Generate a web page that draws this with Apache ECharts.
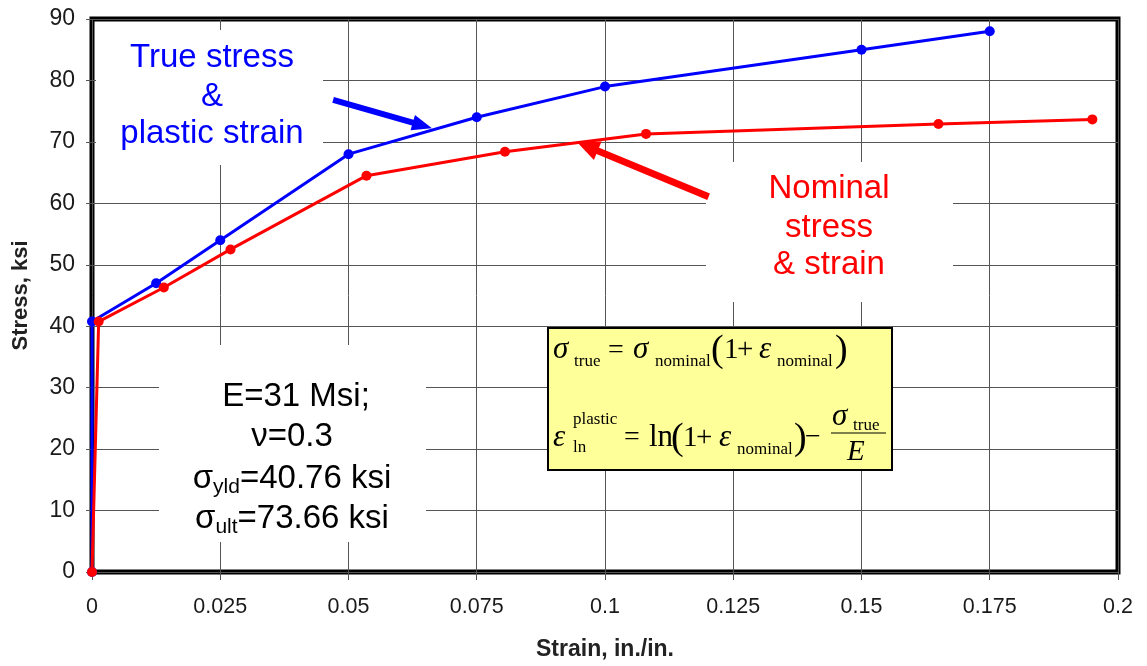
<!DOCTYPE html>
<html>
<head>
<meta charset="utf-8">
<script src="https://cdn.jsdelivr.net/npm/echarts@6/dist/echarts.min.js"></script>
<style>
  html, body { margin: 0; padding: 0; background: #fff; }
  #chart { width: 1147px; height: 666px; }
</style>
</head>
<body>
<div id="chart"></div>
<script>
// True stress vs. plastic strain
const trueStrain = [0, 0, 0.0125, 0.025, 0.05, 0.075, 0.1, 0.15, 0.175];
const trueStress = [0, 40.76, 47, 54, 68, 74, 79, 85, 88];
// Nominal (engineering) stress vs. strain
const nomStrain = [0, 0.0013, 0.014, 0.027, 0.0535, 0.0805, 0.108, 0.165, 0.195];
const nomStress = [0, 40.76, 46.3, 52.5, 64.5, 68.4, 71.3, 72.9, 73.66];

const xTickLabels = ['0', '0.025', '0.05', '0.075', '0.1', '0.125', '0.15', '0.175', '0.2'];
const yTickLabels = ['0', '10', '20', '30', '40', '50', '60', '70', '80', '90'];

// Callout arrows: [tail strain, tail stress], [head strain, head stress]
const blueArrow = [[0.0470, 76.84], [0.0644, 72.68]];
const redArrow = [[0.1202, 61.08], [0.0966, 69.23]];

const SANS = 'Liberation Sans, Arial, sans-serif';
const SERIF = 'Liberation Serif, Times New Roman, serif';

const chart = echarts.init(document.getElementById('chart'), null, { renderer: 'canvas' });

function zip(xs, ys) { return xs.map((x, i) => [x, ys[i]]); }

// white panel behind a text block (hides the grid)
function panel(x, y, w, h) {
  return { type: 'rect', z: 1, silent: true, shape: { x, y, width: w, height: h }, style: { fill: '#fff' } };
}
function label(text, x, y, size, color) {
  return {
    type: 'text', z: 3, silent: true, x, y,
    style: { text, fill: color, font: size + 'px ' + SANS, align: 'center', verticalAlign: 'middle' }
  };
}
// formula glyph placed by its left edge and baseline
function glyph(text, x, base, size, italic) {
  return {
    type: 'text', z: 4, silent: true, x, y: base - 0.34 * size,
    style: {
      text, fill: '#000', align: 'left', verticalAlign: 'middle',
      font: (italic ? 'italic ' : '') + size + 'px ' + SERIF
    }
  };
}

const richLine = {
  m: { fontSize: 33, fontFamily: SANS, color: '#000', lineHeight: 38 },
  sub: { fontSize: 21, fontFamily: SANS, color: '#000', verticalAlign: 'bottom', lineHeight: 21 }
};
function richText(text, x, y) {
  return {
    type: 'text', z: 3, silent: true, x, y,
    style: { text, rich: richLine, align: 'center', verticalAlign: 'middle' }
  };
}

const graphics = [
  // text panels
  panel(96, 30, 227, 135),
  panel(159, 345, 267, 197),
  panel(706, 162, 247, 140),
  // formula box
  {
    type: 'rect', z: 1, silent: true,
    shape: { x: 548, y: 328, width: 344, height: 142 },
    style: { fill: '#ffff99', stroke: '#000', lineWidth: 2 }
  },
  label('True stress', 212, 58, 33, '#0000ff'),
  label('&', 212, 97, 33, '#0000ff'),
  label('plastic strain', 212, 134, 33, '#0000ff'),
  label('Nominal', 829, 189, 33, '#ff0000'),
  label('stress', 829, 228, 33, '#ff0000'),
  label('& strain', 829, 265, 33, '#ff0000'),
  label('E=31 Msi;', 296, 397, 33, '#000'),
  label('\u03bd=0.3', 292, 437, 33, '#000'),
  richText('{m|\u03c3}{sub|yld}{m|=40.76 ksi}', 292, 479),
  richText('{m|\u03c3}{sub|ult}{m|=73.66 ksi}', 292, 519),
  // line 1: sigma_true = sigma_nominal (1 + eps_nominal)
  glyph('\u03c3', 553, 360, 31, true),
  glyph('true', 574, 367, 17, false),
  glyph('=', 608, 360, 28, false),
  glyph('\u03c3', 633, 360, 31, true),
  glyph('nominal', 655, 367, 17, false),
  glyph('(', 711, 364, 38, false),
  glyph('1', 724, 360, 29, false),
  glyph('+', 737, 360, 29, false),
  glyph('\u03b5', 759, 360, 31, true),
  glyph('nominal', 777, 367, 17, false),
  glyph(')', 835, 364, 38, false),
  // line 2: eps_ln^plastic = ln(1 + eps_nominal) - sigma_true / E
  glyph('\u03b5', 553, 448, 31, true),
  glyph('plastic', 573, 425, 17, false),
  glyph('ln', 573, 453, 17, false),
  glyph('=', 624, 447, 28, false),
  glyph('ln', 649, 448, 31, false),
  glyph('(', 671, 452, 38, false),
  glyph('1', 683, 448, 29, false),
  glyph('+', 696, 448, 29, false),
  glyph('\u03b5', 719, 448, 31, true),
  glyph('nominal', 737, 455, 17, false),
  glyph(')', 794, 452, 38, false),
  glyph('\u2212', 805, 447, 28, false),
  glyph('\u03c3', 832, 427, 31, true),
  glyph('true', 853, 431, 17, false),
  {
    type: 'line', z: 4, silent: true,
    shape: { x1: 831, y1: 433, x2: 886, y2: 433 },
    style: { stroke: '#000', lineWidth: 1.2 }
  },
  glyph('E', 847, 462, 29, true)
];

function arrowLine(pts, color, width, size) {
  return {
    silent: true, animation: false,
    symbol: ['none', 'triangle'], symbolSize: size,
    lineStyle: { color, width, type: 'solid' },
    label: { show: false },
    emphasis: { disabled: true },
    data: [[{ coord: pts[0] }, { coord: pts[1] }]]
  };
}

const option = {
  animation: false,
  backgroundColor: '#fff',
  grid: {
    left: 92, right: 29, top: 19, bottom: 93,
    show: true, borderColor: '#000', borderWidth: 5, backgroundColor: 'transparent'
  },
  xAxis: {
    type: 'value', min: 0, max: 0.2, interval: 0.025,
    name: 'Strain, in./in.', nameLocation: 'middle', nameGap: 66,
    nameTextStyle: { fontFamily: SANS, fontSize: 23, fontWeight: 'bold', color: '#222' },
    axisLine: { show: false },
    axisTick: { show: true, length: 8, lineStyle: { color: '#555' } },
    axisLabel: {
      margin: 24, fontFamily: SANS, fontSize: 21.5, color: '#1a1a1a',
      formatter: (v) => xTickLabels[Math.round(v / 0.025)]
    },
    splitLine: { show: true, lineStyle: { color: '#555', width: 1 } }
  },
  yAxis: {
    type: 'value', min: 0, max: 90, interval: 10,
    name: 'Stress, ksi', nameLocation: 'middle', nameGap: 60,
    nameTextStyle: { fontFamily: SANS, fontSize: 22, fontWeight: 'bold', color: '#222' },
    axisLine: { show: false },
    axisTick: { show: true, length: 6, lineStyle: { color: '#555' } },
    axisLabel: {
      margin: 17, fontFamily: SANS, fontSize: 23, color: '#1a1a1a',
      formatter: (v) => yTickLabels[Math.round(v / 10)]
    },
    splitLine: { show: true, lineStyle: { color: '#555', width: 1 } }
  },
  graphic: { elements: graphics },
  series: [
    {
      name: 'True stress & plastic strain', type: 'line', z: 2,
      data: zip(trueStrain, trueStress),
      symbol: 'circle', symbolSize: 10,
      lineStyle: { color: '#0000ff', width: 3 },
      itemStyle: { color: '#0000ff' },
      markLine: arrowLine(blueArrow, '#0000ff', 6, [16, 20])
    },
    {
      name: 'Nominal stress & strain', type: 'line', z: 2,
      data: zip(nomStrain, nomStress),
      symbol: 'circle', symbolSize: 10,
      lineStyle: { color: '#ff0000', width: 3 },
      itemStyle: { color: '#ff0000' },
      markLine: arrowLine(redArrow, '#ff0000', 7, [20, 22])
    }
  ]
};

chart.setOption(option);
</script>
</body>
</html>
